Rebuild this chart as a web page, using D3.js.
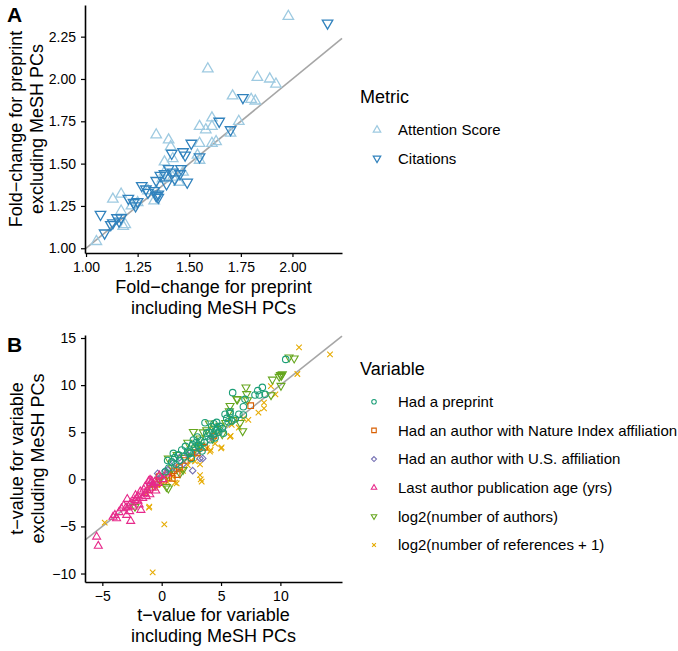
<!DOCTYPE html>
<html><head><meta charset="utf-8">
<script src="https://cdn.jsdelivr.net/npm/d3@7"></script>
<style>
html,body{margin:0;padding:0;background:#fff;}
svg text{font-family:"Liberation Sans",Arial,Helvetica,sans-serif;}
</style></head>
<body><svg id="chart" width="678" height="651"></svg>
<script>
// ---------- Panel A data ----------
const metricNames = ["Attention Score", "Citations"];
const attentionScore = [
 [1.98,2.37],[1.59,2.06],[1.83,2.01],[1.89,2.00],[1.92,1.97],[1.71,1.90],[1.80,1.88],[1.82,1.87],
 [1.61,1.77],[1.55,1.72],[1.58,1.70],[1.61,1.72],[1.74,1.75],[1.70,1.68],[1.34,1.67],[1.40,1.64],
 [1.41,1.60],[1.55,1.62],[1.61,1.62],[1.63,1.63],[1.38,1.51],[1.42,1.53],[1.55,1.52],[1.54,1.55],
 [1.38,1.45],[1.47,1.45],[1.42,1.42],[1.33,1.28],[1.17,1.32],[1.13,1.29],[1.17,1.22],[1.22,1.25],
 [1.19,1.14],[1.18,1.13],[1.05,1.04],[1.30,1.34],[1.34,1.34],[1.37,1.41],[1.45,1.39],[1.25,1.27]
];
const citations = [
 [2.17,2.33],[1.76,1.89],[1.645,1.75],[1.70,1.70],[1.51,1.62],[1.47,1.57],[1.415,1.56],[1.48,1.55],
 [1.55,1.54],[1.46,1.47],[1.40,1.47],[1.38,1.44],[1.36,1.43],[1.34,1.40],[1.39,1.38],[1.43,1.41],
 [1.455,1.44],[1.49,1.39],[1.27,1.37],[1.29,1.35],[1.35,1.32],[1.35,1.30],[1.33,1.34],[1.34,1.31],
 [1.205,1.295],[1.23,1.27],[1.25,1.275],[1.24,1.25],[1.07,1.20],[1.15,1.18],[1.17,1.18],[1.16,1.16],
 [1.13,1.15],[1.09,1.09],[1.12,1.14],[1.30,1.33],[1.42,1.45]
];
const aTicks = [1.00, 1.25, 1.50, 1.75, 2.00, 2.25];
const aXTicks = [1.00, 1.25, 1.50, 1.75, 2.00];

// ---------- Panel B data ----------
const variableNames = ["Had a preprint","Had an author with Nature Index affiliation","Had an author with U.S. affiliation","Last author publication age (yrs)","log2(number of authors)","log2(number of references + 1)"];
const hadPreprint = [
 [10.45,12.73],[8.48,9.76],[8.09,9.41],[7.86,8.95],[8.23,8.95],[8.71,9.02],[5.98,9.2],[7.02,8.49],
 [6.88,7.71],[5.76,7.18],[5.34,6.9],[5.48,6.47],[4.63,6.04],[6.88,6.83],[5.76,7.0],[3.65,6.0],
 [4.21,5.59],[5.2,4.9],[2.67,4.17],[1.69,3.11],[0.98,2.75],[0.84,1.87],[3.23,3.29],[2.39,2.75],
 [4.6,5.2],[4.9,5.6],[4.4,4.8],[3.9,4.6],[4.1,4.2],[3.6,3.9],[3.1,3.6],[2.8,3.4],[2.2,3.0],
 [1.9,2.4],[1.5,2.0],[1.2,1.6],[0.6,1.2],[0.3,0.8],[2.5,2.2],[3.4,3.0],[4.8,5.0],[5.1,5.4],
 [6.2,6.4],[6.5,6.9],[5.9,6.2],[1.1,2.3],[2.0,3.5],[3.0,4.5],[4.4,5.9],[0.5,2.0],[4.5,4.4],[3.8,4.9],
 [2.3,2.9],[2.9,3.9],[3.3,4.1],[4.0,5.0],[1.4,2.6],[2.6,3.7],[4.7,5.5],[5.6,6.1]
];
const natureIndex = [
 [7.5,7.82],[0.6,0.2],[1.0,0.9],[1.5,1.3],[0.2,-0.1],[-0.4,-0.5],[2.0,2.0],[2.5,2.3],[3.0,2.8],
 [1.3,0.5],[0.9,0.1],[-0.2,0.3],[-1.0,-1.1],[3.6,3.4],[4.4,4.6]
];
const usAffiliation = [
 [2.61,0.92],[-0.34,0.63],[3.23,2.22],[3.46,2.22],[1.0,1.8],[1.5,2.3],[2.2,2.6],[0.5,1.0],
 [0.0,0.2],[-0.8,-0.5],[1.8,1.6],[2.9,2.9],[1.2,1.1],[0.3,0.9],[4.2,4.5]
];
const lastAuthorAge = [
 [-5.48,-6.1],[-5.34,-7.08],[-2.61,-4.43],[-3.8,-4.15],[-3.94,-3.79],[-2.95,-3.79],[-3.39,-3.09],
 [-2.8,-2.9],[-1.75,-3.26],[-2.25,-2.2],[-1.97,-1.84],[-1.41,-1.49],[-0.98,-0.07],[-2.4,-2.9],
 [-3.0,-3.0],[-2.6,-2.5],[-2.0,-2.3],[-1.6,-2.0],[-1.2,-1.2],[-0.8,-0.9],[-0.6,-0.3],[-0.3,-0.4],
 [0.1,0.0],[-1.0,-1.6],[-1.8,-1.3],[-2.2,-1.7],[-1.4,-0.8],[-0.5,-1.2],[-0.9,-0.4],[-3.6,-3.5],
 [-4.1,-4.0],[-2.7,-3.4],[-3.2,-2.8],[-1.9,-2.7],[-0.2,0.4],[0.4,0.6],[-1.1,-0.2],[-2.9,-2.1],[-0.84,-0.18],
 [-1.5,-1.1],[-2.1,-2.0],[-1.3,-1.8],[-0.7,-0.6]
];
const log2Authors = [
 [10.73,12.95],[11.16,12.84],[10.16,11.18],[10.08,11.0],[10.05,9.94],[9.33,10.6],[9.21,8.95],
 [7.1,9.76],[7.16,9.06],[6.32,8.53],[7.22,8.42],[5.76,7.81],[5.7,7.25],[6.82,5.13],[6.38,8.49],
 [4.02,5.94],[3.79,5.23],[2.81,3.29],[3.23,4.35],[0.56,2.22],[2.67,5.05],[6.6,6.0],[4.5,5.4],
 [3.5,5.0],[2.2,3.9],[1.3,2.6],[0.9,1.2],[0.5,0.5],[0.4,-0.8],[0.56,-0.96],[1.54,0.64],[1.8,1.0],
 [-2.25,-2.9],[-0.2,0.0],[4.9,5.7],[5.4,6.0],[3.0,3.5],[2.4,2.9],[1.9,2.3],[9.9,10.9],[10.0,11.1],
 [6.0,6.3],[5.1,4.8],[4.3,4.3],[3.3,3.6]
];
const log2References = [
 [11.57,14.0],[14.18,13.27],[11.43,11.18],[9.2,9.9],[9.58,9.02],[8.62,8.14],[8.62,7.54],[8.15,7.07],
 [6.88,6.47],[5.9,5.77],[5.81,4.6],[5.76,4.52],[5.0,3.29],[4.13,3.11],[3.23,0.45],[3.29,0.0],
 [3.37,-0.25],[5.05,3.39],[4.07,2.93],[3.23,1.59],[1.26,-0.42],[1.12,-0.36],[-1.04,-2.9],[-1.07,-3.0],
 [-4.8,-4.6],[0.22,-4.78],[-0.76,-9.88],[-1.26,-1.49],[0.5,-0.3],[0.0,-0.6],[-0.5,-0.9],[1.8,0.9],
 [2.2,1.5],[2.5,2.0],[3.0,2.6],[3.8,3.3],[4.5,3.8],[0.9,0.3],[-0.3,0.2],[6.5,5.5],[7.3,6.3],
 [1.5,1.0],[2.8,1.9],[4.4,4.9]
];
const bTicksX = [-5, 0, 5, 10];
const bTicksY = [-10, -5, 0, 5, 10, 15];

// ---------- styles ----------
const FONT_TICK = 14, FONT_TITLE = 18, FONT_LEG = 15;
const colA = {"Attention Score":"#9ecae1","Citations":"#3182bd"};
const colB = ["#1b9e77","#d95f02","#7570b3","#e7298a","#66a61e","#e6ab02"];
const shapeB = ["circle","square","diamond","triUp","triDown","cross"];

function shapePath(shape, s){
  const h = s/2;
  switch(shape){
    case "circle": { const p = d3.path(); p.arc(0,0,h,0,2*Math.PI); p.closePath(); return p.toString(); }
    case "square": return `M${-h},${-h}H${h}V${h}H${-h}Z`;
    case "diamond": return `M0,${-h*1.25}L${h*1.25},0L0,${h*1.25}L${-h*1.25},0Z`;
    case "triUp": { const t = s*0.866; return `M0,${-2*t/3}L${h},${t/3}L${-h},${t/3}Z`; }
    case "triDown": { const t = s*0.866; return `M0,${2*t/3}L${h},${-t/3}L${-h},${-t/3}Z`; }
    case "cross": { const c = h*0.85; return `M${-c},${-c}L${c},${c}M${-c},${c}L${c},${-c}`; }
  }
}

const svg = d3.select("#chart");

function drawAxes(g, x, y, xt, yt, fmt){
  const ax = g.append("g").attr("transform",`translate(0,${y.range()[0]})`)
    .call(d3.axisBottom(x).tickValues(xt).tickFormat(fmt).tickSize(4).tickPadding(5).tickSizeOuter(0));
  const ay = g.append("g").attr("transform",`translate(${x.range()[0]},0)`)
    .call(d3.axisLeft(y).tickValues(yt).tickFormat(fmt).tickSize(4).tickPadding(5).tickSizeOuter(0));
  [ax, ay].forEach(a=>{
    a.select(".domain").attr("stroke","#000").attr("stroke-width",1.6);
    a.selectAll(".tick line").attr("stroke","#000").attr("stroke-width",1.2);
    a.selectAll(".tick text").attr("fill","#000").style("font-size",FONT_TICK+"px")
      .style("font-family",'"Liberation Sans",Arial,sans-serif');
  });
}

function titleLines(g, lines, x, y, rotate){
  const t = g.append("text").attr("text-anchor","middle").attr("fill","#000")
    .style("font-size",FONT_TITLE+"px")
    .attr("transform", rotate ? `translate(${x},${y}) rotate(-90)` : `translate(${x},${y})`);
  lines.forEach((l,i)=>t.append("tspan").attr("x",0).attr("y",i*21).text(l));
}

// ---------- Panel A ----------
const xA = d3.scaleLinear().domain([0.995, 2.24]).range([85, 342]);
const yA = d3.scaleLinear().domain([0.972, 2.437]).range([253, 5]);
const gA = svg.append("g");
const lineDomA = xA.domain();
gA.append("line").attr("x1",xA(lineDomA[0])).attr("y1",yA(lineDomA[0]))
  .attr("x2",xA(lineDomA[1])).attr("y2",yA(lineDomA[1]))
  .attr("stroke","#a6a6a6").attr("stroke-width",1.6);
const aSeries = [{name:"Attention Score", data:attentionScore, shape:"triUp"},
                 {name:"Citations", data:citations, shape:"triDown"}];
aSeries.forEach(s=>{
  gA.append("g").selectAll("path").data(s.data).join("path")
    .attr("d", shapePath(s.shape, 10.5))
    .attr("transform", d=>`translate(${xA(d[0])},${yA(d[1])})`)
    .attr("fill","none").attr("stroke", colA[s.name]).attr("stroke-width",1.3);
});
drawAxes(gA, xA, yA, aXTicks, aTicks, d3.format(".2f"));
titleLines(gA, ["Fold\u2212change for preprint","including MeSH PCs"], (xA.range()[0]+xA.range()[1])/2, 293, false);
titleLines(gA, ["Fold\u2212change for preprint","excluding MeSH PCs"], 22, (yA.range()[0]+yA.range()[1])/2, true);
svg.append("text").attr("x",7).attr("y",22).text("A").style("font-size","21px").style("font-weight","bold");

// Legend A
const legA = svg.append("g");
legA.append("text").attr("x",360).attr("y",103).text("Metric").style("font-size",FONT_TITLE+"px");
aSeries.forEach((s,i)=>{
  const cy = 130 + i*28.3;
  legA.append("path").attr("d",shapePath(s.shape,7.5)).attr("transform",`translate(377,${cy})`)
    .attr("fill","none").attr("stroke",colA[s.name]).attr("stroke-width",1.2);
  legA.append("text").attr("x",398).attr("y",cy+5.3).text(s.name).style("font-size",FONT_LEG+"px");
});

// ---------- Panel B ----------
const xB = d3.scaleLinear().domain([-6.46, 15.19]).range([85, 342]);
const yB = d3.scaleLinear().domain([-10.9, 15.32]).range([582, 335]);
const gB = svg.append("g");
const lineDomB = xB.domain();
gB.append("line").attr("x1",xB(lineDomB[0])).attr("y1",yB(lineDomB[0]))
  .attr("x2",xB(lineDomB[1])).attr("y2",yB(lineDomB[1]))
  .attr("stroke","#a6a6a6").attr("stroke-width",1.6);
const bSeries = [hadPreprint, natureIndex, usAffiliation, lastAuthorAge, log2Authors, log2References];
const drawOrder = [5, 4, 2, 1, 3, 0];
drawOrder.forEach(i=>{
  const sz = {circle:6.5, square:5.6, diamond:5.2, triUp:8, triDown:8, cross:6.5}[shapeB[i]];
  gB.append("g").selectAll("path").data(bSeries[i]).join("path")
    .attr("d", shapePath(shapeB[i], sz))
    .attr("transform", d=>`translate(${xB(d[0])},${yB(d[1])})`)
    .attr("fill","none").attr("stroke", colB[i]).attr("stroke-width",1.1);
});
drawAxes(gB, xB, yB, bTicksX, bTicksY, d3.format("d"));
titleLines(gB, ["t\u2212value for variable","including MeSH PCs"], (xB.range()[0]+xB.range()[1])/2, 621, false);
titleLines(gB, ["t\u2212value for variable","excluding MeSH PCs"], 23, (yB.range()[0]+yB.range()[1])/2, true);
svg.append("text").attr("x",7).attr("y",352).text("B").style("font-size","21px").style("font-weight","bold");

// Legend B
const legB = svg.append("g");
legB.append("text").attr("x",360).attr("y",375).text("Variable").style("font-size",FONT_TITLE+"px");
variableNames.forEach((n,i)=>{
  const cy = 401.7 + i*28.66;
  const sz = {circle:4.5, square:4.5, diamond:4, triUp:5.5, triDown:5.5, cross:4.5}[shapeB[i]];
  legB.append("path").attr("d",shapePath(shapeB[i],sz)).attr("transform",`translate(374,${cy})`)
    .attr("fill","none").attr("stroke",colB[i]).attr("stroke-width",1.1);
  legB.append("text").attr("x",398).attr("y",cy+5.3).text(n).style("font-size",FONT_LEG+"px");
});
</script></body></html>
